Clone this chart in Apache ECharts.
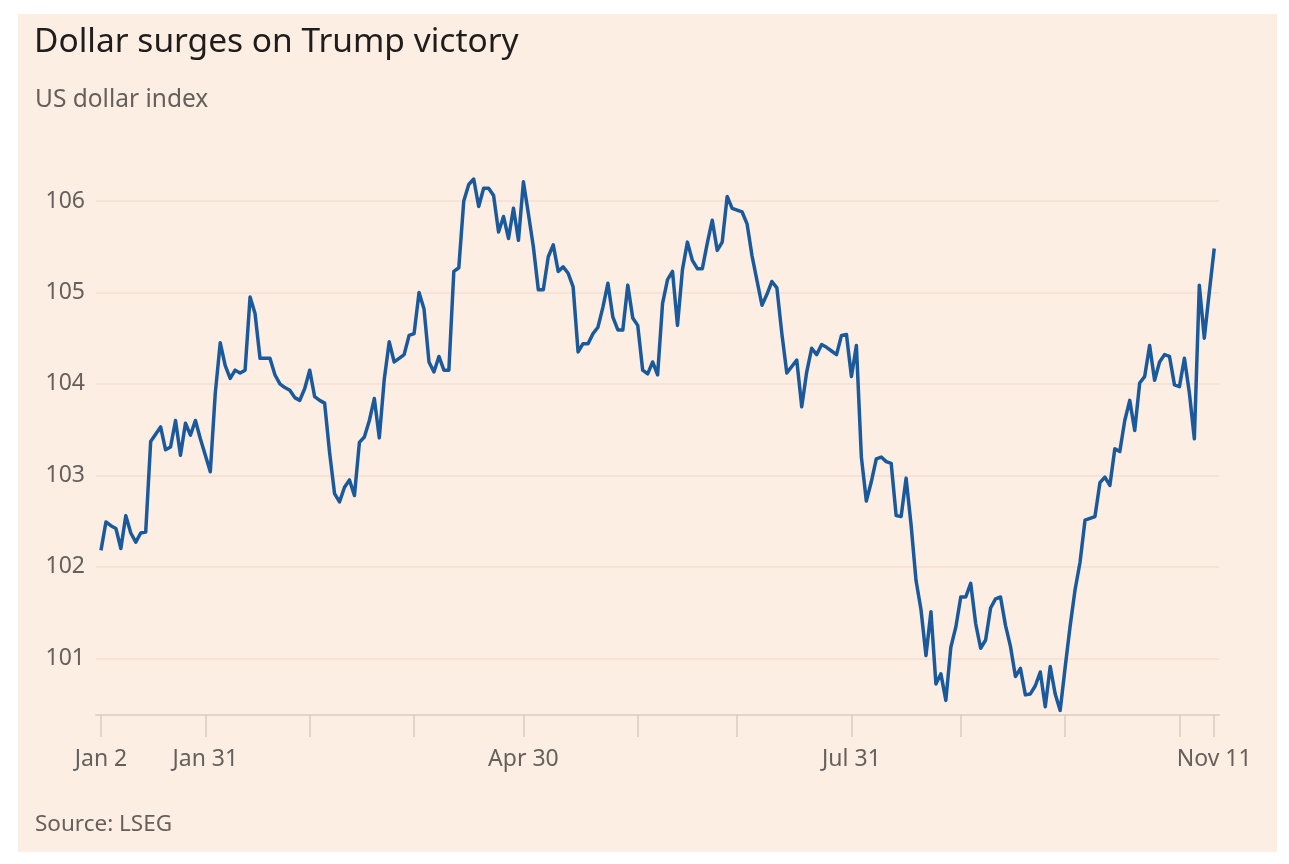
<!DOCTYPE html>
<html>
<head>
<meta charset="utf-8">
<script src="https://cdn.jsdelivr.net/npm/echarts@6/dist/echarts.min.js"></script>
<style>
  html, body { margin: 0; padding: 0; background: #ffffff; }
  #chart { width: 1289px; height: 864px; }
</style>
</head>
<body>
<div id="chart"></div>
<script>
// ---- Data (US dollar index, trading weekdays 2 Jan – 11 Nov 2024) ----
const startDate = '2024-01-02';
const endDate = '2024-11-11';
const dollarIndex = [
  102.18, 102.49, 102.45, 102.42, 102.20, 102.56, 102.37, 102.27, 102.37, 102.38,
  103.37, 103.45, 103.53, 103.28, 103.31, 103.60, 103.22, 103.57, 103.44, 103.60,
  103.40, 103.22, 103.04, 103.90, 104.45, 104.20, 104.06, 104.15, 104.12, 104.15,
  104.95, 104.77, 104.28, 104.28, 104.28, 104.10, 104.00, 103.96, 103.93, 103.85,
  103.82, 103.95, 104.15, 103.86, 103.82, 103.79, 103.25, 102.80, 102.71, 102.87,
  102.95, 102.78, 103.36, 103.42, 103.60, 103.84, 103.41, 104.05, 104.46, 104.24,
  104.28, 104.32, 104.53, 104.55, 105.00, 104.82, 104.24, 104.13, 104.30, 104.15,
  104.15, 105.23, 105.27, 106.00, 106.18, 106.24, 105.94, 106.14, 106.14, 106.06,
  105.66, 105.83, 105.59, 105.92, 105.57, 106.21, 105.86, 105.50, 105.03, 105.03,
  105.39, 105.52, 105.23, 105.28, 105.21, 105.06, 104.35, 104.44, 104.44, 104.55,
  104.62, 104.84, 105.10, 104.73, 104.59, 104.59, 105.08, 104.72, 104.64, 104.15,
  104.11, 104.24, 104.10, 104.88, 105.14, 105.23, 104.64, 105.25, 105.55, 105.35,
  105.26, 105.26, 105.54, 105.79, 105.46, 105.55, 106.05, 105.92, 105.90, 105.88,
  105.75, 105.40, 105.13, 104.86, 104.98, 105.12, 105.05, 104.55, 104.12, 104.19,
  104.26, 103.75, 104.13, 104.39, 104.32, 104.43, 104.40, 104.36, 104.32, 104.53,
  104.54, 104.08, 104.42, 103.20, 102.72, 102.93, 103.18, 103.20, 103.15, 103.13,
  102.56, 102.55, 102.97, 102.46, 101.85, 101.53, 101.03, 101.51, 100.72, 100.83,
  100.54, 101.12, 101.34, 101.67, 101.67, 101.82, 101.38, 101.11, 101.20, 101.55,
  101.65, 101.67, 101.36, 101.13, 100.80, 100.89, 100.60, 100.61, 100.70, 100.85,
  100.47, 100.91, 100.61, 100.43, 100.90, 101.35, 101.75, 102.05, 102.51, 102.53,
  102.55, 102.92, 102.98, 102.89, 103.29, 103.26, 103.60, 103.82, 103.49, 104.01,
  104.08, 104.42, 104.04, 104.24, 104.32, 104.30, 103.99, 103.97, 104.28, 103.90,
  103.40, 105.08, 104.50, 105.00, 105.48
];
const labelledDates = ['2024-01-02', '2024-01-31', '2024-04-30', '2024-07-31', '2024-11-11'];
const tickLabels = ['Jan 2', 'Jan 31', 'Apr 30', 'Jul 31', 'Nov 11'];
const yTickValues = [101, 102, 103, 104, 105, 106];

// ---- Build weekday categories ----
function fmt(d) {
  const m = String(d.getUTCMonth() + 1).padStart(2, '0');
  const dd = String(d.getUTCDate()).padStart(2, '0');
  return d.getUTCFullYear() + '-' + m + '-' + dd;
}
const days = [];
for (let d = new Date(startDate + 'T00:00:00Z'); fmt(d) <= endDate; d.setUTCDate(d.getUTCDate() + 1)) {
  const wd = d.getUTCDay();
  if (wd !== 0 && wd !== 6) days.push(fmt(d));
}
// ticks: first day, last trading day of each month, last day
const tickSet = new Set([days[0], days[days.length - 1]]);
for (let i = 0; i < days.length - 1; i++) {
  if (days[i].slice(5, 7) !== days[i + 1].slice(5, 7)) tickSet.add(days[i]);
}
const labelMap = {};
labelledDates.forEach((d, i) => { labelMap[d] = tickLabels[i]; });

// pad one empty slot each side so the axis runs slightly past the line
const categories = [''].concat(days, ['']);
const seriesData = [null].concat(dollarIndex, [null]);

const FONT = '"Noto Sans", "DejaVu Sans", sans-serif';
const chart = echarts.init(document.getElementById('chart'), null, { renderer: 'canvas' });
chart.setOption({
  backgroundColor: '#ffffff',
  animation: false,
  graphic: [
    { type: 'rect', left: 18, top: 14, z: -10, silent: true,
      shape: { width: 1259, height: 838 }, style: { fill: '#fdeee4' } },
    { type: 'text', left: 34, top: 25, z: 10,
      style: { text: 'Dollar surges on Trump victory', fill: '#1f1d1c', font: '33.5px ' + FONT } },
    { type: 'text', left: 35, top: 88, z: 10,
      style: { text: 'US dollar index', fill: '#66605c', font: '24.5px ' + FONT } },
    { type: 'text', left: 35, top: 813, z: 10,
      style: { text: 'Source: LSEG', fill: '#66605c', font: '22.5px ' + FONT } }
  ],
  grid: { left: 96, right: 69.8, top: 164.4, bottom: 149, containLabel: false },
  xAxis: {
    type: 'category',
    data: categories,
    boundaryGap: false,
    axisLine: { show: true, lineStyle: { color: '#d8cbbf', width: 1.5 } },
    axisTick: {
      show: true, length: 22, lineStyle: { color: '#d8cbbf', width: 1.5 },
      interval: (idx, val) => tickSet.has(val)
    },
    axisLabel: {
      show: true, margin: 33, color: '#66605c', fontSize: 23, fontFamily: FONT,
      interval: (idx, val) => labelMap[val] !== undefined,
      formatter: (val) => labelMap[val] || ''
    },
    splitLine: { show: false }
  },
  yAxis: {
    type: 'value',
    min: 100.38,
    max: 106.4,
    splitNumber: 6,
    axisLine: { show: false },
    axisTick: { show: false },
    axisLabel: {
      color: '#66605c', fontSize: 23, fontFamily: FONT, margin: 11,
      showMinLabel: false, showMaxLabel: false,
      formatter: (v) => (yTickValues.indexOf(Math.round(v * 1000) / 1000) >= 0 ? String(v) : '')
    },
    splitLine: {
      show: true, showMinLine: false, showMaxLine: false,
      lineStyle: { color: '#f3dfd0', width: 1.5 }
    }
  },
  series: [{
    type: 'line',
    data: seriesData,
    showSymbol: false,
    symbol: 'none',
    connectNulls: false,
    lineStyle: { color: '#1a5a9c', width: 3.5, join: 'round' },
    emphasis: { disabled: true }
  }]
});
</script>
</body>
</html>
